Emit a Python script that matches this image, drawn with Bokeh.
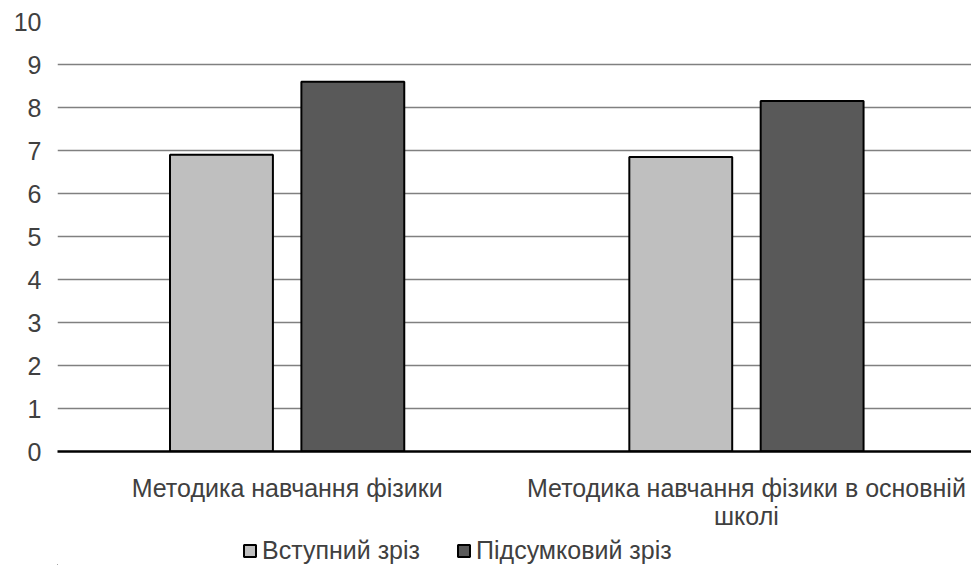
from bokeh.plotting import figure
from bokeh.layouts import column
from bokeh.models import ColumnDataSource, FixedTicker, Legend, LegendItem, Range1d
from bokeh.embed import file_html
from bokeh.resources import INLINE

# Data
categories = ["Методика навчання фізики", "Методика навчання фізики в основній\nшколі"]
series_names = ["Вступний зріз", "Підсумковий зріз"]
entry_values = [6.9, 6.85]
final_values = [8.6, 8.15]
y_ticks = list(range(0, 11))

colors = ["#bfbfbf", "#595959"]
font = "Liberation Sans"
text_color = "#404040"
fs = "25px"

centers = [i + 0.5 for i in range(len(categories))]
offset = 0.143
bar_w = 0.224

p = figure(width=971, height=533, output_backend="svg", toolbar_location=None,
           x_range=(0, 1.99), y_range=(0, 10),
           min_border_left=57, min_border_right=0, min_border_top=21,
           min_border_bottom=82)
p.outline_line_color = None
p.background_fill_color = "white"
p.border_fill_color = "white"

src1 = ColumnDataSource(dict(x=[c - offset for c in centers], top=entry_values))
src2 = ColumnDataSource(dict(x=[c + offset for c in centers], top=final_values))
p.vbar(x="x", top="top", width=bar_w, bottom=0, source=src1,
       fill_color=colors[0], line_color="black", line_width=2)
p.vbar(x="x", top="top", width=bar_w, bottom=0, source=src2,
       fill_color=colors[1], line_color="black", line_width=2)

# y axis: labels only
p.yaxis.ticker = FixedTicker(ticks=y_ticks)
p.yaxis.axis_line_color = None
p.yaxis.major_tick_line_color = None
p.yaxis.minor_tick_line_color = None
p.yaxis.major_label_text_font = font
p.yaxis.major_label_text_font_size = fs
p.yaxis.major_label_text_color = text_color
p.yaxis.major_label_standoff = 10

# x axis: baseline and category labels
p.xaxis.ticker = FixedTicker(ticks=centers)
p.xaxis.major_label_overrides = {c: lab for c, lab in zip(centers, categories)}
p.xaxis.axis_line_color = "black"
p.xaxis.axis_line_width = 2.5
p.xaxis.major_tick_line_color = None
p.xaxis.minor_tick_line_color = None
p.xaxis.major_label_text_font = font
p.xaxis.major_label_text_font_size = fs
p.xaxis.major_label_text_color = text_color
p.xaxis.major_label_standoff = 16
p.xaxis.major_label_text_line_height = 1.0

p.xgrid.grid_line_color = None
p.ygrid.ticker = FixedTicker(ticks=y_ticks[1:])
p.ygrid.grid_line_color = "#808080"
p.ygrid.grid_line_width = 1.5

# legend strip under the chart; its swatch renderers sit outside the visible range
lg = figure(width=971, height=32, output_backend="svg", toolbar_location=None,
            x_axis_location=None, y_axis_location=None,
            x_range=Range1d(0, 1), y_range=Range1d(0, 1),
            min_border_left=0, min_border_right=0, min_border_top=0, min_border_bottom=0)
lg.outline_line_color = None
lg.grid.grid_line_color = None
k1 = lg.vbar(x=[-5], top=[-5], bottom=-6, width=1,
             fill_color=colors[0], line_color="black", line_width=2)
k2 = lg.vbar(x=[-5], top=[-5], bottom=-6, width=1,
             fill_color=colors[1], line_color="black", line_width=2)
legend = Legend(items=[LegendItem(label=series_names[0], renderers=[k1]),
                       LegendItem(label=series_names[1], renderers=[k2])],
                orientation="horizontal", location=(185, 0),
                glyph_width=15, glyph_height=15, label_standoff=5, spacing=36,
                label_text_font=font, label_text_font_size=fs,
                label_text_color=text_color, border_line_color=None,
                background_fill_alpha=0, padding=1, margin=0)
lg.add_layout(legend, "center")

layout = column(p, lg, spacing=0)
open("out.html", "w").write(file_html(layout, INLINE))
